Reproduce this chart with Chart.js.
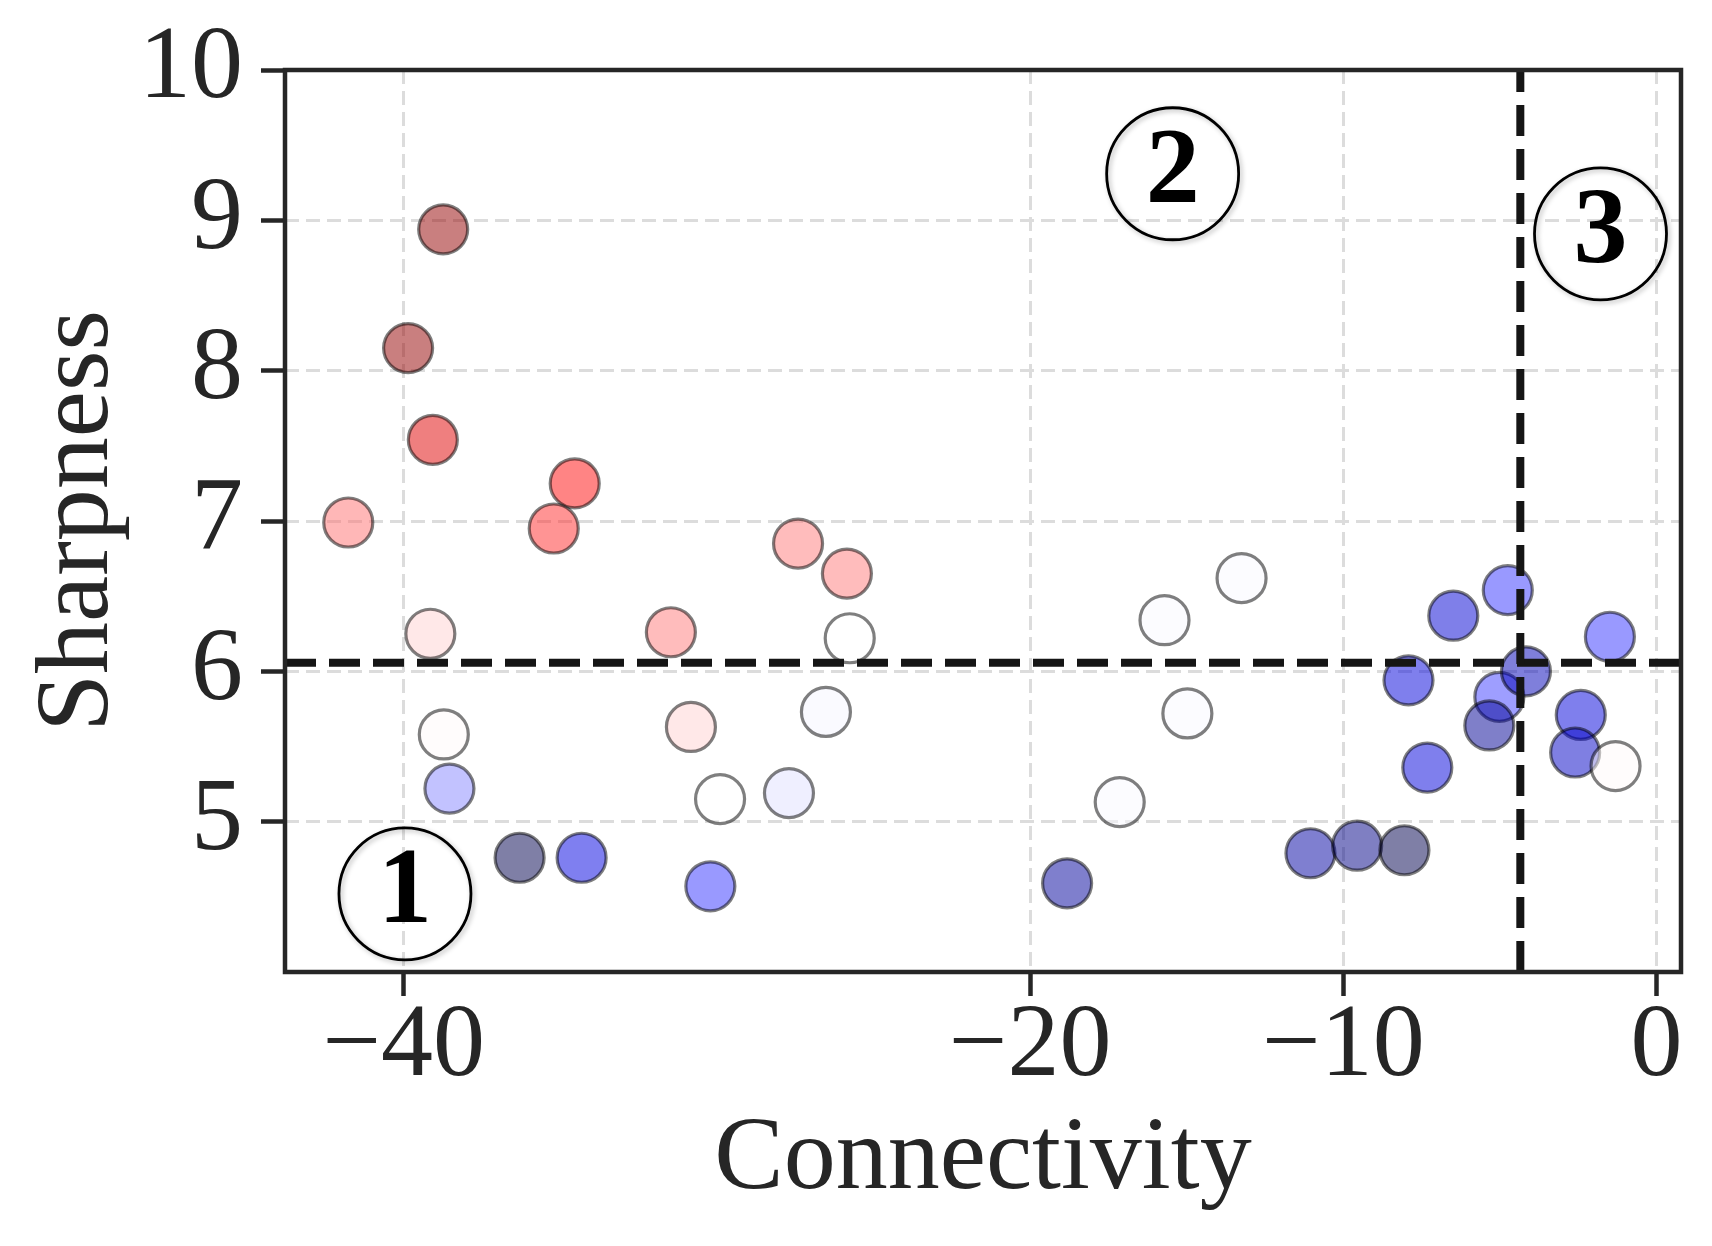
<!DOCTYPE html>
<html lang="en">
<head>
    <meta charset="UTF-8">
    <title>Sharpness vs Connectivity</title>
    <script src="https://cdn.jsdelivr.net/npm/chart.js"></script>
    <style>
        html, body { margin: 0; padding: 0; background: #fff; }
        #scatter { display: block; }
    </style>
</head>
<body>

<canvas id="scatter" width="1712" height="1246"></canvas>

<script>
    // values
    const connectivity = [-38.74, -39.86, -39.07, -41.77, -34.54, -35.21, -27.41, -25.85, -31.47, -39.15,
                          -25.76, -38.72, -30.83, -26.52, -38.54, -29.90, -27.70, -36.30, -34.32, -30.21,
                          -18.82, -17.14, -15.71, -14.98, -13.25, -11.05, -9.56, -8.05, -7.92, -7.32,
                          -6.49, -4.75, -5.02, -5.34, -4.17, -2.42, -2.60, -1.49, -1.31];
    const sharpness = [8.94, 8.15, 7.54, 6.99, 7.25, 6.95, 6.85, 6.65, 6.26, 6.25,
                       6.22, 5.58, 5.63, 5.73, 5.22, 5.15, 5.19, 4.76, 4.76, 4.57,
                       4.59, 5.13, 6.34, 5.72, 6.62, 4.79, 4.84, 4.81, 5.94, 5.36,
                       6.37, 6.54, 5.83, 5.64, 6.00, 5.71, 5.46, 6.23, 5.37];
    // colour value on the seismic map (0 = dark blue, 0.5 = white, 1 = dark red)
    const tone = [0.96, 0.96, 0.81, 0.64, 0.74, 0.71, 0.63, 0.63, 0.63, 0.545,
                  0.50, 0.505, 0.545, 0.49, 0.38, 0.50, 0.47, 0.00, 0.21, 0.30,
                  0.11, 0.495, 0.495, 0.495, 0.495, 0.12, 0.08, 0.00, 0.20, 0.20,
                  0.19, 0.30, 0.31, 0.10, 0.15, 0.20, 0.17, 0.30, 0.505];

    const xTicks = [-40, -20, -10, 0];
    const yTicks = [5, 6, 7, 8, 9, 10];

    const cutX = -4.35;
    const cutY = 6.057;

    const noteText = ['1', '2', '3'];
    const noteX = [-39.96, -15.45, -1.79];
    const noteY = [4.52, 9.31, 8.91];

    const SERIF = '"Liberation Serif", "Times New Roman", serif';
    const INK = '#262626';

    const seismic = [[0, 0, 0, 0.3], [0.25, 0, 0, 1], [0.5, 1, 1, 1], [0.75, 1, 0, 0], [1, 0.5, 0, 0]];

    function seismicColor(t, alpha) {
        for (let i = 1; i < seismic.length; i++) {
            const a = seismic[i - 1], b = seismic[i];
            if (t <= b[0]) {
                const f = (t - a[0]) / (b[0] - a[0]);
                const c = [1, 2, 3].map(k => Math.round(255 * (a[k] + f * (b[k] - a[k]))));
                return `rgba(${c[0]},${c[1]},${c[2]},${alpha})`;
            }
        }
        return `rgba(128,0,0,${alpha})`;
    }

    const points = connectivity.map((x, i) => ({x: x, y: sharpness[i]}));

    const overlay = {
        id: 'overlay',
        afterDatasetsDraw(chart) {
            const {ctx, chartArea: a, scales: {x, y}} = chart;

            // threshold lines
            ctx.save();
            ctx.strokeStyle = '#151515';
            ctx.lineWidth = 8;
            ctx.setLineDash([31, 13]);
            const py = y.getPixelForValue(cutY);
            ctx.beginPath();
            ctx.moveTo(a.left, py);
            ctx.lineTo(a.right, py);
            ctx.stroke();
            const px = x.getPixelForValue(cutX);
            ctx.beginPath();
            ctx.moveTo(px, a.bottom);
            ctx.lineTo(px, a.top);
            ctx.stroke();
            ctx.restore();

            // frame
            ctx.save();
            ctx.strokeStyle = INK;
            ctx.lineWidth = 4.5;
            ctx.strokeRect(a.left, a.top, a.right - a.left, a.bottom - a.top);
            ctx.restore();

            // circled region numbers
            noteText.forEach((t, i) => {
                const cx = x.getPixelForValue(noteX[i]);
                const cy = y.getPixelForValue(noteY[i]);
                ctx.save();
                ctx.shadowColor = 'rgba(0,0,0,0.28)';
                ctx.shadowBlur = 5;
                ctx.shadowOffsetX = 2;
                ctx.shadowOffsetY = 2;
                ctx.beginPath();
                ctx.arc(cx, cy, 66, 0, Math.PI * 2);
                ctx.lineWidth = 2.8;
                ctx.strokeStyle = '#000';
                ctx.stroke();
                ctx.restore();
                ctx.save();
                ctx.fillStyle = '#000';
                ctx.font = '700 108px ' + SERIF;
                ctx.textAlign = 'center';
                ctx.textBaseline = 'middle';
                ctx.fillText(t, cx, cy);
                ctx.restore();
            });
        }
    };

    const axisCommon = {
        type: 'linear',
        border: {display: false, dash: [14, 7]},
        grid: {
            color: '#dcdcdc',
            lineWidth: 3,
            drawTicks: true,
            tickLength: 24,
            tickColor: INK,
            tickWidth: 4.5,
            tickBorderDash: []
        }
    };

    new Chart(document.getElementById('scatter'), {
        type: 'scatter',
        data: {
            datasets: [{
                data: points,
                backgroundColor: tone.map(t => seismicColor(t, 0.5)),
                borderColor: 'rgba(0,0,0,0.5)',
                borderWidth: 3.2,
                pointRadius: 24.5,
                pointHoverRadius: 24.5
            }]
        },
        options: {
            responsive: false,
            devicePixelRatio: 1,
            animation: false,
            layout: {padding: {top: 65, right: 31, left: 0, bottom: 0}},
            plugins: {
                legend: {display: false},
                tooltip: {enabled: false}
            },
            scales: {
                x: {
                    ...axisCommon,
                    min: -43.79,
                    max: 0.78,
                    afterBuildTicks: s => { s.ticks = xTicks.map(v => ({value: v})); },
                    afterFit: s => { s.height = 274; },
                    ticks: {
                        color: INK,
                        padding: 0,
                        maxRotation: 0,
                        font: {family: SERIF, size: 104, lineHeight: 1},
                        callback: v => String(v).replace('-', '\u2212')
                    },
                    title: {
                        display: true,
                        text: 'Connectivity',
                        color: INK,
                        padding: {top: 0, bottom: 23},
                        font: {family: SERIF, size: 104, lineHeight: 1.2}
                    }
                },
                y: {
                    ...axisCommon,
                    min: 4,
                    max: 10,
                    afterBuildTicks: s => { s.ticks = yTicks.map(v => ({value: v})); },
                    afterFit: s => { s.width = 285; },
                    ticks: {
                        color: INK,
                        padding: 18,
                        font: {family: SERIF, size: 104, lineHeight: 1},
                        callback: v => String(v)
                    },
                    title: {
                        display: true,
                        text: 'Sharpness',
                        color: INK,
                        padding: {top: 17, bottom: 0},
                        font: {family: SERIF, size: 104, lineHeight: 1.2}
                    }
                }
            }
        },
        plugins: [overlay]
    });
</script>

</body>
</html>
